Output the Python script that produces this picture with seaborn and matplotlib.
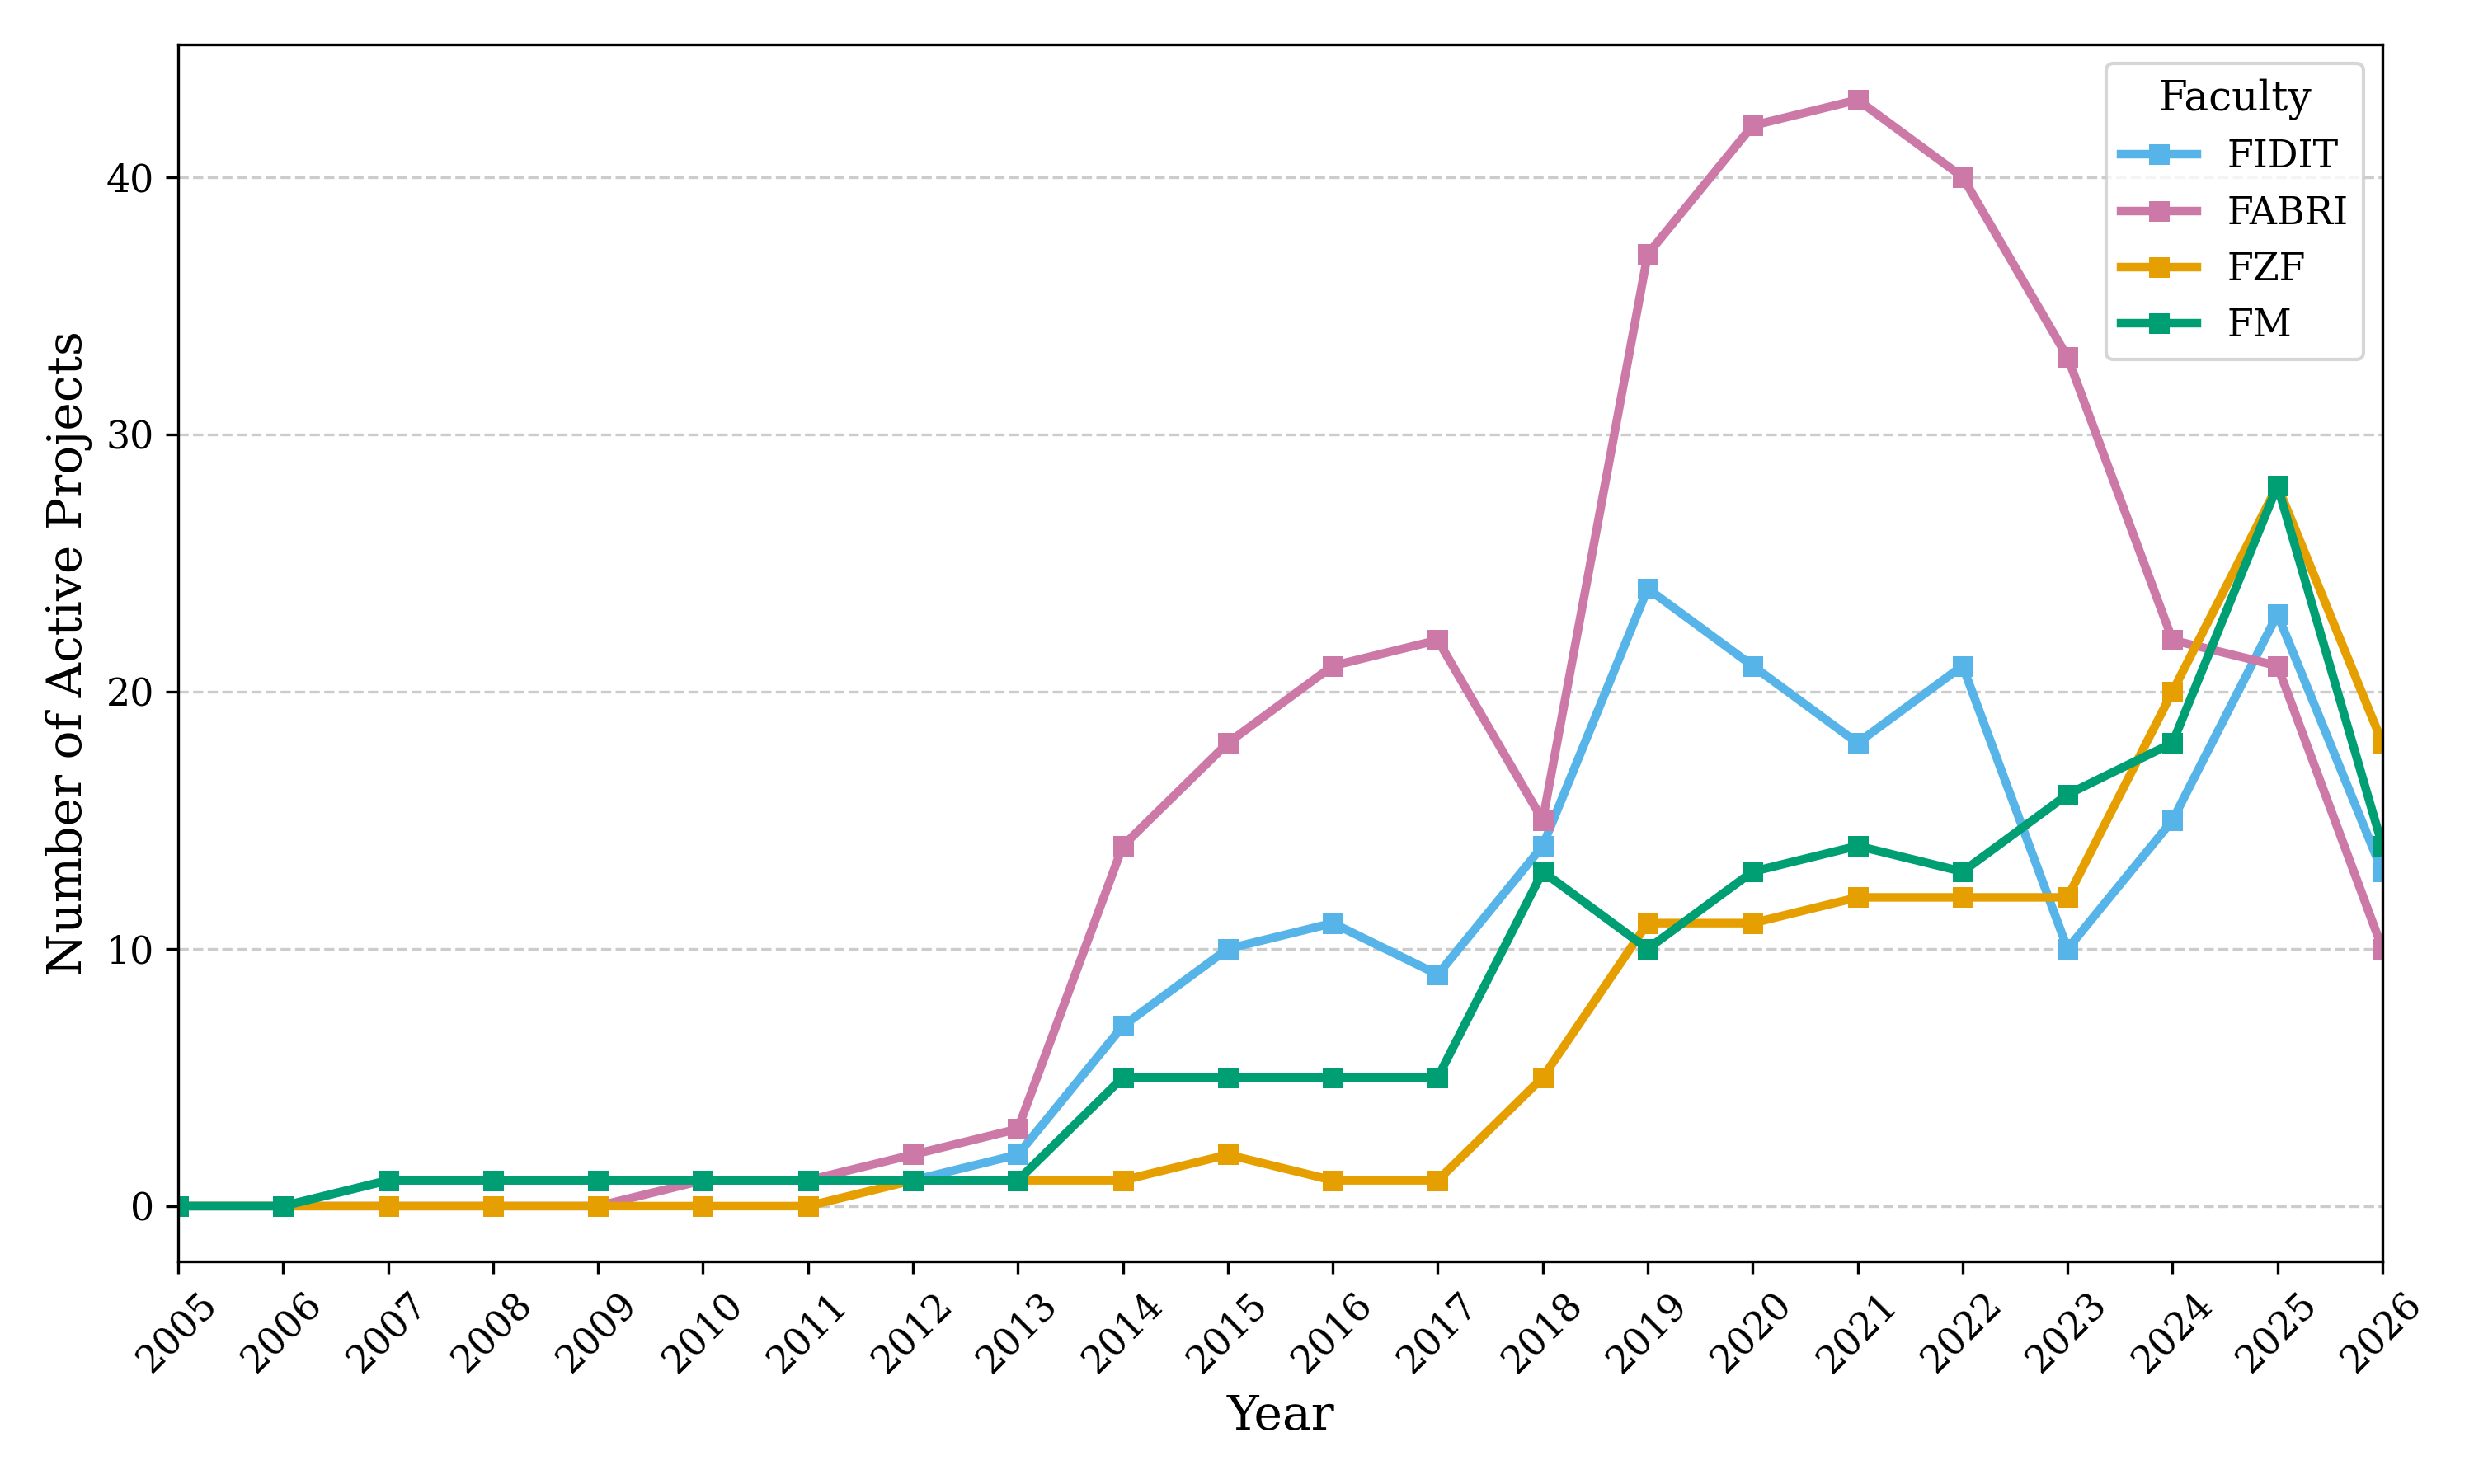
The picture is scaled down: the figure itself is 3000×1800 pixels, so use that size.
import pandas as pd
import numpy as np
import matplotlib.pyplot as plt
import seaborn as sns

# Data ######################################################################

years = list(range(2005, 2027))

fidit = [0, 0, 1, 1, 1, 1, 1, 1, 2, 7, 10, 11, 9, 14, 24, 21, 18, 21, 10, 15, 23, 13]
fabri = [0, 0, 0, 0, 0, 1, 1, 2, 3, 14, 18, 21, 22, 15, 37, 42, 43, 40, 33, 22, 21, 10]
fzf   = [0, 0, 0, 0, 0, 0, 0, 1, 1, 1, 2, 1, 1, 5, 11, 11, 12, 12, 12, 20, 28, 18]
fm    = [0, 0, 1, 1, 1, 1, 1, 1, 1, 5, 5, 5, 5, 13, 10, 13, 14, 13, 16, 18, 28, 14]

faculties = ["FIDIT", "FABRI", "FZF", "FM"]
colors = ["#56B4E9", "#CC79A7", "#E69F00", "#009E73"]

df = pd.DataFrame({
    "Year": years * 4,
    "Projects": fidit + fabri + fzf + fm,
    "Faculty": np.repeat(faculties, len(years)),
})

# Plot ######################################################################

plt.rcParams["font.family"] = ["DejaVu Serif"]

fig, ax = plt.subplots(figsize=(10, 6), dpi=300)
sns.lineplot(data=df, x="Year", y="Projects", hue="Faculty",
             hue_order=faculties, palette=dict(zip(faculties, colors)),
             marker="s", markersize=6, markeredgewidth=0,
             linewidth=2.5, ax=ax, legend=False)

ax.set_xlim(2005, 2026)
ax.set_xticks(years)
ax.set_xticklabels([str(y) for y in years], rotation=45, fontsize=11)
ax.tick_params(axis="y", labelsize=11)
ax.set_xlabel("Year", fontsize=14)
ax.set_ylabel("Number of Active Projects", fontsize=14)
ax.yaxis.grid(True, linestyle="--", color="#cccccc", linewidth=0.8)
ax.set_axisbelow(True)

# legend from the drawn lines so the square markers show up
handles = ax.get_lines()[:len(faculties)]
ax.legend(handles, faculties, title="Faculty", loc="upper right",
          fontsize=11, title_fontsize=12)

fig.subplots_adjust(left=0.072, right=0.963, top=0.970, bottom=0.150)
fig.savefig("out.png", dpi=300)
